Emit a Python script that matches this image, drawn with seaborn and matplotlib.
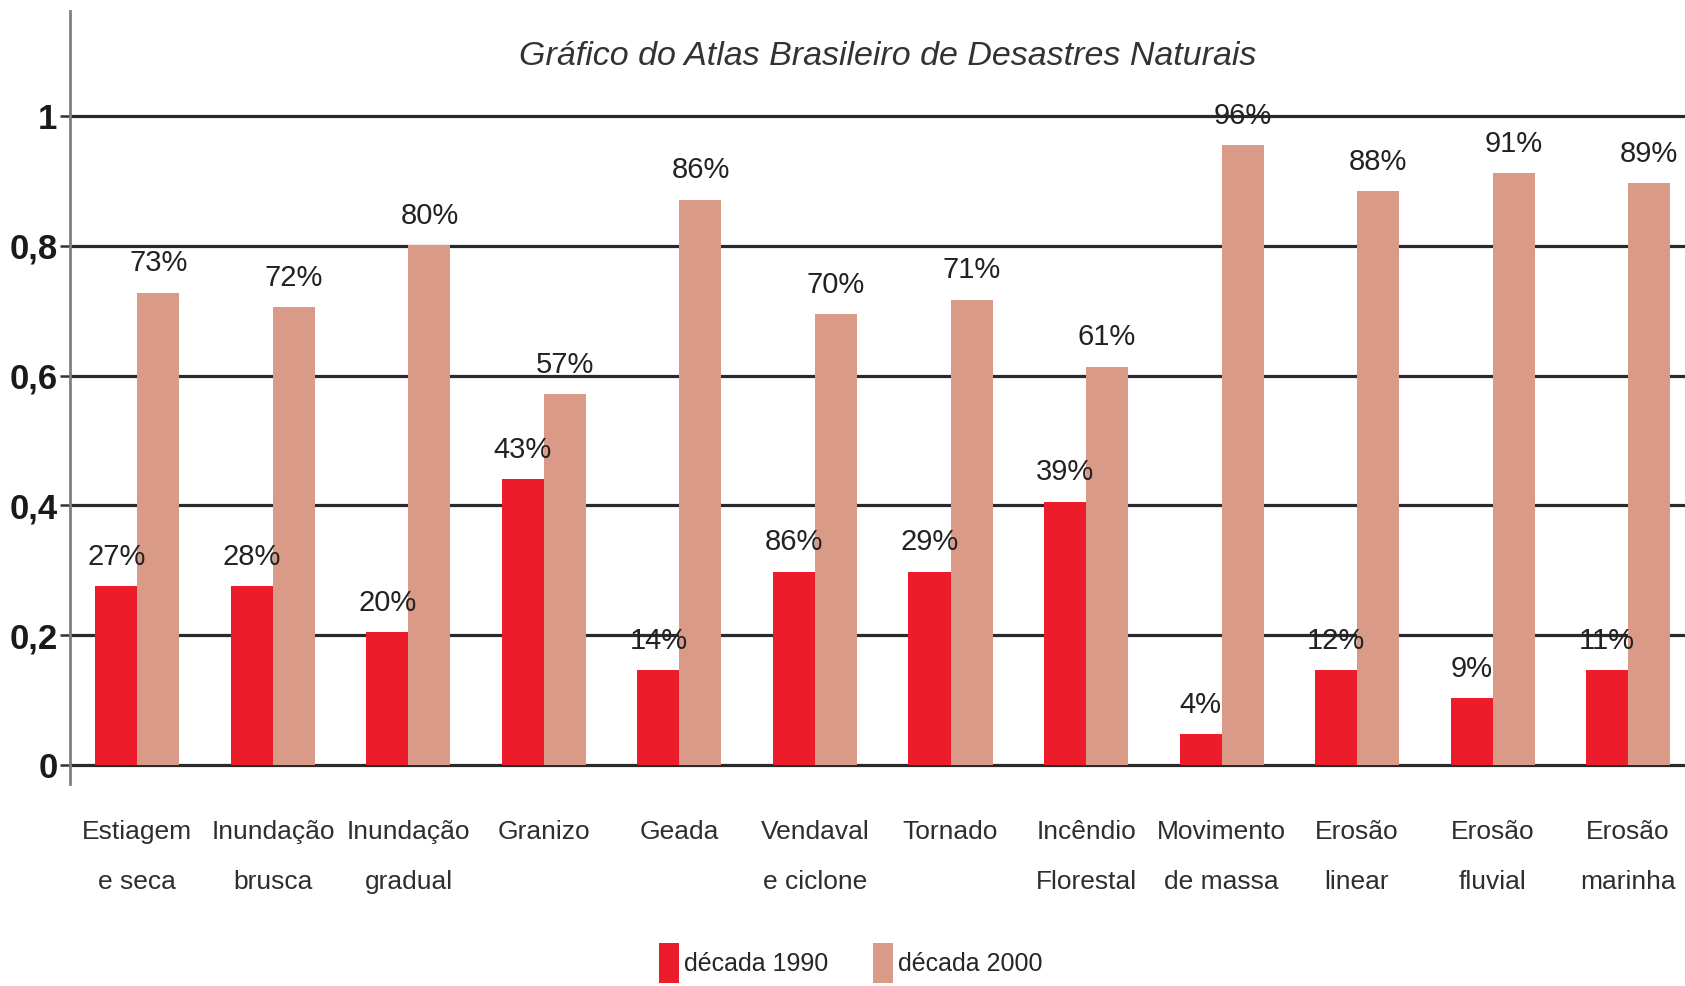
import pandas as pd
import matplotlib.pyplot as plt
import seaborn as sns
from matplotlib.patches import Patch

# dados
categorias = ["Estiagem\ne seca", "Inundação\nbrusca", "Inundação\ngradual", "Granizo",
              "Geada", "Vendaval\ne ciclone", "Tornado", "Incêndio\nFlorestal",
              "Movimento\nde massa", "Erosão\nlinear", "Erosão\nfluvial", "Erosão\nmarinha"]
valores_1990 = [0.276, 0.276, 0.205, 0.440, 0.146, 0.298, 0.298, 0.406, 0.048, 0.146, 0.103, 0.146]
valores_2000 = [0.728, 0.705, 0.801, 0.571, 0.871, 0.695, 0.717, 0.614, 0.955, 0.884, 0.912, 0.897]
rotulos_1990 = ["27%", "28%", "20%", "43%", "14%", "86%", "29%", "39%", "4%", "12%", "9%", "11%"]
rotulos_2000 = ["73%", "72%", "80%", "57%", "86%", "70%", "71%", "61%", "96%", "88%", "91%", "89%"]
decadas = ["década 1990", "década 2000"]
cores = ["#ED1C2A", "#DA9A88"]

df = pd.DataFrame({
    "categoria": categorias * 2,
    "valor": valores_1990 + valores_2000,
    "decada": [decadas[0]] * len(categorias) + [decadas[1]] * len(categorias),
})

sns.set_style("white")
plt.rcParams["font.family"] = ["Liberation Sans", "DejaVu Sans"]

fig = plt.figure(figsize=(16.85, 9.86), dpi=100)
ax = fig.add_axes([0.0415, 0.205, 0.9585, 0.784])

sns.barplot(data=df, x="categoria", y="valor", hue="decada", palette=cores,
            width=0.62, gap=0, saturation=1, linewidth=0, legend=False, ax=ax, zorder=3)

for cont, rot in zip(ax.containers, [rotulos_1990, rotulos_2000]):
    ax.bar_label(cont, labels=rot, padding=11, fontsize=21, color="#222222", zorder=5)

ax.set_ylim(-0.029, 1.162)
ax.set_xlim(-0.498, 11.42)
ax.set_yticks([0, 0.2, 0.4, 0.6, 0.8, 1.0])
ax.set_yticklabels(["0", "0,2", "0,4", "0,6", "0,8", "1"], fontsize=25, fontweight="bold", color="#1a1a1a")
ax.set_xticks(range(len(categorias)))
ax.set_xticklabels(categorias, linespacing=2.35, fontsize=19, color="#2e2e2e")
ax.yaxis.grid(True, color="#2a2a2a", linewidth=2.3, zorder=0)
ax.set_axisbelow(True)
ax.tick_params(axis="y", length=7, width=1.8, color="#333333", pad=2, left=True)
ax.tick_params(axis="x", length=0, pad=26)
ax.set_xlabel("")
ax.set_ylabel("")
for s in ["top", "right", "bottom"]:
    ax.spines[s].set_visible(False)
ax.spines["left"].set_color("#808080")
ax.spines["left"].set_linewidth(2)

fig.text(0.527, 0.943, "Gráfico do Atlas Brasileiro de Desastres Naturais", ha="center", va="center",
         fontsize=24.5, style="italic", color="#333333")

handles = [Patch(facecolor=c, edgecolor="none") for c in cores]
fig.legend(handles, decadas, loc="center", bbox_to_anchor=(0.505, 0.023), ncol=2, frameon=False,
           fontsize=18, handlelength=0.8, handleheight=2.1, handletextpad=0.2, columnspacing=1.8)

fig.savefig("out.png", dpi=100)
